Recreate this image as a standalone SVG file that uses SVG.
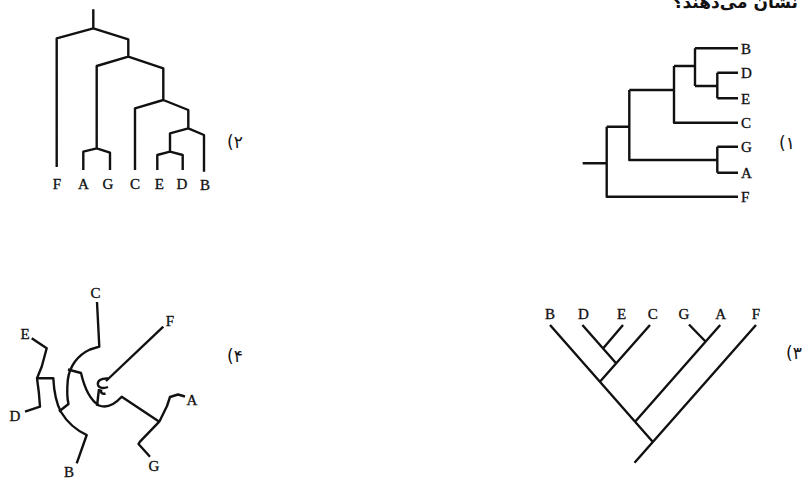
<svg xmlns="http://www.w3.org/2000/svg" width="812" height="478" viewBox="0 0 812 478">
<style>
.e{fill:none;stroke:#111;stroke-width:2.4;stroke-linejoin:round;stroke-linecap:butt}
.l{font-family:"Liberation Serif","Times New Roman",serif;font-size:15px;fill:#111;stroke:#111;stroke-width:0.35}
.n{font-family:"DejaVu Sans","Noto Sans",sans-serif;font-size:17px;fill:#111;direction:ltr;unicode-bidi:bidi-override}
.t{font-family:"DejaVu Sans","Noto Sans",sans-serif;font-size:17px;font-weight:bold;fill:#111}
</style>
<rect width="812" height="478" fill="#fff"/>
<text class="t" x="798" y="8" text-anchor="end">نشان می‌دهند؟</text>

<!-- Tree 1 -->
<g id="tree1">
<g id="tree1-edges" class="e">
<path d="M582.7,163.3H606.7M606.7,126.7V196.7H738M606.7,126.7H629.3M629.3,90V160H717.3M717.3,146.7V172.7M717.3,146.7H738M717.3,172.7H738M629.3,90H674M674,66V122.7H738M674,66H695M695,48.3V86M695,48.3H738M695,86H717.3M717.3,72.7V98.3M717.3,72.7H738M717.3,98.3H738"/>
</g>
<g id="t1-B"><text class="l" x="741" y="53.5">B</text></g>
<g id="t1-D"><text class="l" x="741" y="78">D</text></g>
<g id="t1-E"><text class="l" x="741" y="103.5">E</text></g>
<g id="t1-C"><text class="l" x="741" y="128">C</text></g>
<g id="t1-G"><text class="l" x="741" y="152">G</text></g>
<g id="t1-A"><text class="l" x="741" y="178">A</text></g>
<g id="t1-F"><text class="l" x="741" y="202">F</text></g>
<g id="t1-num"><text class="n" x="779" y="149">(۱</text></g>
</g>

<!-- Tree 2 -->
<g id="tree2">
<g id="tree2-edges" class="e">
<path d="M93.3,9.3V28.3M93.3,28.3L56.7,38.3V167M93.3,28.3L128.3,39.3V56.7M128.3,56.7L96.7,66V148.3M96.7,148.3L83.3,151.7V170M96.7,148.3L110,152.7V170M128.3,56.7L163.3,68.3V100M163.3,100L135,108.3V170M163.3,100L188.3,110V128.3M188.3,128.3L170,133.3V151.7M188.3,128.3L204,135V171.7M170,151.7L157.3,155V170M170,151.7L182.7,155V170"/>
</g>
<g id="t2-F"><text class="l" x="57" y="189" text-anchor="middle">F</text></g>
<g id="t2-A"><text class="l" x="83.3" y="189" text-anchor="middle">A</text></g>
<g id="t2-G"><text class="l" x="108" y="189" text-anchor="middle">G</text></g>
<g id="t2-C"><text class="l" x="135" y="189" text-anchor="middle">C</text></g>
<g id="t2-E"><text class="l" x="159.3" y="189" text-anchor="middle">E</text></g>
<g id="t2-D"><text class="l" x="182" y="189" text-anchor="middle">D</text></g>
<g id="t2-B"><text class="l" x="205" y="190" text-anchor="middle">B</text></g>
<g id="t2-num"><text class="n" x="227" y="148">(۲</text></g>
</g>

<!-- Tree 3 -->
<g id="tree3">
<g id="tree3-edges" class="e">
<path d="M550,325L652.7,441.7M756,325L634.5,462.7M635.1,421.7L720.2,325M705.5,341.5L689,324.5M599.9,381.7L650,325M616.1,363.3L582.4,325M603,348.5L623,325"/>
</g>
<g id="t3-B"><text class="l" x="550" y="318.5" text-anchor="middle">B</text></g>
<g id="t3-D"><text class="l" x="583.3" y="318.5" text-anchor="middle">D</text></g>
<g id="t3-E"><text class="l" x="621.7" y="318.5" text-anchor="middle">E</text></g>
<g id="t3-C"><text class="l" x="652.7" y="318.5" text-anchor="middle">C</text></g>
<g id="t3-G"><text class="l" x="684" y="318.5" text-anchor="middle">G</text></g>
<g id="t3-A"><text class="l" x="720.7" y="318.5" text-anchor="middle">A</text></g>
<g id="t3-F"><text class="l" x="756" y="318.5" text-anchor="middle">F</text></g>
<g id="t3-num"><text class="n" x="786" y="359">(۳</text></g>
</g>

<!-- Tree 4 -->
<g id="tree4">
<g id="tree4-edges" class="e">
<path d="M97,302L99.3,346.7L90,349.5C78,355 69.5,366 67.8,380C66.8,391 67,398 68.5,404L59,411.5"/>
<path d="M68,369.5L81,373C84,386 90,400 99,405.5C107,408.5 115,404 121.7,396.7L159.3,421.7"/>
<path d="M97,406L99,389"/>
<path d="M108,378.5C101,378 97,381 98,385C99,388.5 104,388.5 108,387M101.5,389.5C100,392 102,394.5 105.5,393.5"/>
<path d="M106,381L163.3,326.7"/>
<path d="M31.7,338.3L46.7,348.3L41.7,366.7L37,378.3C38.5,388 39.5,398 40,406.7L25,411.7"/>
<path d="M37,378.3H53.3C54,392 56,403 61,412C67,422 76,430 86.7,435L76.7,463.3"/>
<path d="M159.3,421.7L167,406L170,397L178,394.5L185,396.5M159.3,421.7L140,441.7L138.5,444L150,456.7"/>
</g>
<g id="t4-C"><text class="l" x="95.5" y="297.5" text-anchor="middle">C</text></g>
<g id="t4-F"><text class="l" x="170" y="325.5" text-anchor="middle">F</text></g>
<g id="t4-E"><text class="l" x="25" y="338.5" text-anchor="middle">E</text></g>
<g id="t4-D"><text class="l" x="15" y="420.5" text-anchor="middle">D</text></g>
<g id="t4-B"><text class="l" x="69" y="476.5" text-anchor="middle">B</text></g>
<g id="t4-G"><text class="l" x="154" y="470.5" text-anchor="middle">G</text></g>
<g id="t4-A"><text class="l" x="192" y="404.5" text-anchor="middle">A</text></g>
<g id="t4-num"><text class="n" x="227" y="362">(۴</text></g>
</g>
</svg>
